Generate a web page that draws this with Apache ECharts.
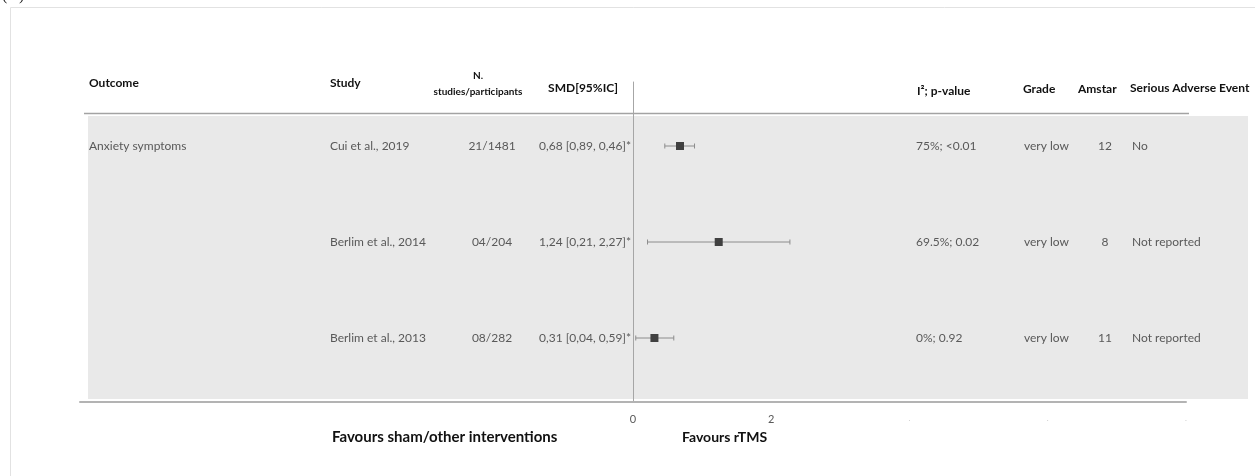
<!DOCTYPE html>
<html>
<head>
<meta charset="utf-8">
<script src="https://cdn.jsdelivr.net/npm/echarts@6/dist/echarts.min.js"></script>
<style>
  html, body { margin: 0; padding: 0; background: #ffffff; }
  #chart { width: 1255px; height: 476px; }
</style>
</head>
<body>
<div id="chart"></div>
<script>
// Forest plot table: rTMS versus sham/other interventions on anxiety symptoms
const outcomes = ['Anxiety symptoms', '', ''];
const studies = ['Cui et al., 2019', 'Berlim et al., 2014', 'Berlim et al., 2013'];
const studiesParticipants = ['21/1481', '04/204', '08/282'];
const smd = [0.68, 1.24, 0.31];
const ciFirst = [0.89, 0.21, 0.04];   // bracket values in the order they are printed
const ciSecond = [0.46, 2.27, 0.59];
const heterogeneity = ['75%; <0.01', '69.5%; 0.02', '0%; 0.92'];
const grade = ['very low', 'very low', 'very low'];
const amstar = [12, 8, 11];
const adverseEvents = ['No', 'Not reported', 'Not reported'];
const xTickLabels = { '0': '0', '2': '2', '4': '.', '6': '.', '8': '.' };

const FONT = 'Lato, "Open Sans", sans-serif';
const rowIndex = studies.map((_, i) => i + 1);
const comma = v => v.toFixed(2).replace('.', ',');
const smdLabels = smd.map((v, i) =>
  `${comma(v)} [${comma(ciFirst[i])}, ${comma(ciSecond[i])}]*`);

const forestData = smd.map((v, i) => [
  rowIndex[i],
  Math.min(ciFirst[i], ciSecond[i]),
  Math.max(ciFirst[i], ciSecond[i]),
  v
]);

const chart = echarts.init(document.getElementById('chart'), null, { renderer: 'canvas' });

chart.setOption({
  animation: false,
  backgroundColor: '#ffffff',
  grid: { left: 80, right: 69, top: 82, bottom: 74, containLabel: false },
  xAxis: {
    type: 'value',
    min: -8,
    max: 8,
    interval: 2,
    axisLine: { show: true, lineStyle: { color: '#b3b3b3', width: 2 } },
    axisTick: { show: false },
    splitLine: { show: false },
    axisLabel: {
      margin: 12,
      fontFamily: FONT,
      fontSize: 11,
      color: '#595959',
      formatter: v => {
        const t = xTickLabels[String(v)];
        if (t === undefined) return '';
        return t === '.' ? '{d|.}' : t;
      },
      rich: { d: { color: '#c8c8c8', fontSize: 8, fontFamily: FONT } }
    }
  },
  yAxis: {
    type: 'value',
    inverse: true,
    min: 1 / 3,
    max: 11 / 3,
    axisLine: { show: true, onZero: true, lineStyle: { color: '#a6a6a6', width: 1 } },
    axisTick: { show: false },
    axisLabel: { show: false },
    splitLine: { show: false }
  },
  series: [{
    type: 'custom',
    z: 5,
    data: forestData,
    encode: { x: [1, 2, 3], y: 0 },
    renderItem: (params, api) => {
      const row = api.value(0);
      const lo = api.coord([api.value(1), row]);
      const hi = api.coord([api.value(2), row]);
      const mid = api.coord([api.value(3), row]);
      const cap = 2.5;
      const half = 4;
      const lineStyle = { stroke: '#8c8c8c', lineWidth: 1 };
      return {
        type: 'group',
        children: [
          { type: 'line', shape: { x1: lo[0], y1: lo[1], x2: hi[0], y2: hi[1] }, style: lineStyle },
          { type: 'line', shape: { x1: lo[0], y1: lo[1] - cap, x2: lo[0], y2: lo[1] + cap }, style: lineStyle },
          { type: 'line', shape: { x1: hi[0], y1: hi[1] - cap, x2: hi[0], y2: hi[1] + cap }, style: lineStyle },
          { type: 'rect', shape: { x: mid[0] - half, y: mid[1] - half, width: half * 2, height: half * 2 },
            style: { fill: '#404040' } }
        ]
      };
    }
  }]
});

// Table text and decorations
const rowY = rowIndex.map(r => chart.convertToPixel({ yAxisIndex: 0 }, r));
const cellStyle = { fontFamily: FONT, fontSize: 12, fill: '#595959' };
const headStyle = { fontFamily: FONT, fontSize: 12, fontWeight: 'bold', fill: '#111111' };

function txt(x, y, text, style, align) {
  return {
    type: 'text', x: x, y: y, z: 10,
    style: Object.assign({ text: String(text), align: align || 'left', verticalAlign: 'middle' }, style)
  };
}

const elements = [
  // outer frame
  { type: 'rect', z: -20, shape: { x: 10.5, y: 7.5, width: 1400, height: 600 },
    style: { fill: null, stroke: '#e2e2e2', lineWidth: 1 } },
  { type: 'text', x: 2, y: 4, z: 10,
    style: { text: '(A)', fontFamily: '"Liberation Serif", serif', fontSize: 16, fill: '#222',
             verticalAlign: 'bottom' } },
  // shaded body of the table
  { type: 'rect', z: -10, shape: { x: 88, y: 116, width: 1160, height: 283 },
    style: { fill: '#e9e9e9' } },
  // rule under the header
  { type: 'line', z: -5, shape: { x1: 84, y1: 113.5, x2: 1189, y2: 113.5 },
    style: { stroke: '#a3a3a3', lineWidth: 1.5 } },
  // headers
  txt(89, 83, 'Outcome', headStyle),
  txt(330, 83, 'Study', headStyle),
  txt(478, 76, 'N.', Object.assign({}, headStyle, { fontSize: 10 }), 'center'),
  txt(478, 92, 'studies/participants', Object.assign({}, headStyle, { fontSize: 10 }), 'center'),
  txt(583, 88, 'SMD[95%IC]', headStyle, 'center'),
  txt(917, 91, 'I²; p-value', headStyle),
  txt(1023, 89, 'Grade', headStyle),
  txt(1078, 89, 'Amstar', headStyle),
  txt(1130, 88, 'Serious Adverse Event', headStyle),
  // footer captions
  txt(332, 437, 'Favours sham/other interventions',
      { fontFamily: FONT, fontSize: 15, fontWeight: 'bold', fill: '#111111' }),
  txt(682, 437, 'Favours rTMS',
      { fontFamily: FONT, fontSize: 14, fontWeight: 'bold', fill: '#111111' })
];

rowY.forEach((y, i) => {
  elements.push(
    txt(89, y, outcomes[i], cellStyle),
    txt(330, y, studies[i], cellStyle),
    txt(492, y, studiesParticipants[i], cellStyle, 'center'),
    txt(539, y, smdLabels[i], cellStyle),
    txt(916, y, heterogeneity[i], cellStyle),
    txt(1024, y, grade[i], cellStyle),
    txt(1105, y, amstar[i], cellStyle, 'center'),
    txt(1132, y, adverseEvents[i], cellStyle)
  );
});

chart.setOption({ graphic: { elements: elements } });
</script>
</body>
</html>
